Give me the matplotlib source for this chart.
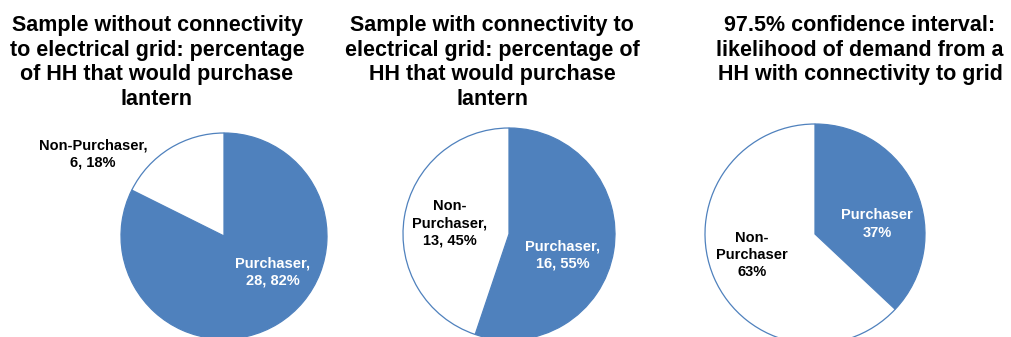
import numpy as np
import matplotlib.pyplot as plt

plt.rcParams['font.family'] = ['Liberation Sans', 'DejaVu Sans']

categories = ["Purchaser", "Non-Purchaser"]
no_grid_counts = [28, 6]
grid_counts = [16, 13]
ci_pct = [37, 63]

titles = ["Sample without connectivity\nto electrical grid: percentage\nof HH that would purchase\nlantern",
          "Sample with connectivity to\nelectrical grid: percentage of\nHH that would purchase\nlantern",
          "97.5% confidence interval:\nlikelihood of demand from a\nHH with connectivity to grid"]

blue = "#4F81BD"
W, H = 1011, 337

fig = plt.figure(figsize=(W/100, H/100), dpi=100)
ax = fig.add_axes([0, 0, 1, 1])

def count_labels(counts, breaks):
    tot = sum(counts)
    out = []
    for name, c, b in zip(categories, counts, breaks):
        p = round(100*c/tot)
        nm = name.replace("-", "-\n") if b else name
        out.append(f"{nm},\n{c}, {p}%")
    return out

labels = [count_labels(no_grid_counts, [False, False]),
          count_labels(grid_counts, [False, True]),
          [f"Purchaser\n{ci_pct[0]}%", f"Non-\nPurchaser\n{ci_pct[1]}%"]]
values = [no_grid_counts, grid_counts, ci_pct]

# pie centres/radii in pixels (y from top)
pies = [(224, 236, 103), (509, 234, 106), (815, 234, 110)]
title_pos = [(157, 15), (492, 15), (860, 15)]
lab_pos = [[(273, 272), (93, 154)],
           [(563, 255), (450, 223)],
           [(877, 224), (752, 255)]]

for i in range(3):
    cx, cy, r = pies[i]
    ax.pie(values[i], colors=[blue, "white"], startangle=90, counterclock=False,
           center=(cx, H - cy), radius=r, frame=True,
           wedgeprops=dict(edgecolor=blue, linewidth=0.9))
    tx, ty = title_pos[i]
    ax.text(tx, H - ty, titles[i], ha='center', va='top', fontsize=15.5,
            fontweight='bold', linespacing=1.22)
    for j in range(2):
        lx, ly = lab_pos[i][j]
        ax.text(lx, H - ly, labels[i][j], ha='center', va='center', fontsize=10.5,
                fontweight='bold', color='white' if j == 0 else 'black', linespacing=1.28)

ax.set_xlim(0, W)
ax.set_ylim(0, H)
ax.set_aspect('equal')
ax.axis('off')

fig.savefig("out.png", dpi=100)
